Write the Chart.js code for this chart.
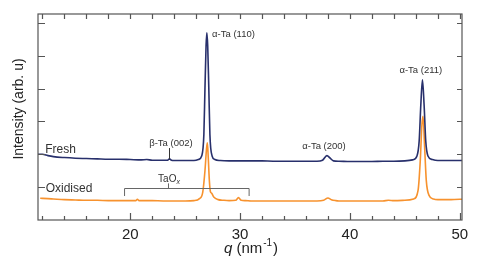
<!DOCTYPE html>
<html>
<head>
<meta charset="utf-8">
<script src="https://cdn.jsdelivr.net/npm/chart.js@4/dist/chart.umd.min.js"></script>
<style>
  html, body { margin: 0; padding: 0; background: #fff; }
</style>
</head>
<body>
<canvas id="xrd" width="498" height="274"></canvas>
<script>
// XRD scans, q in nm^-1, intensity in arb. units
const qFresh = [11.6, 12.0, 12.5, 13, 14, 15, 16, 17, 18, 19, 20, 21, 21.5, 22, 23, 23.4, 23.57, 23.75, 24, 25, 25.8,
  26.2, 26.5, 26.7, 26.8, 26.9, 26.97, 27.05, 27.15, 27.25, 27.45, 27.7, 28.2, 29, 30, 31, 32, 33, 34, 35, 36, 37,
  37.5, 37.9, 38.2, 38.5, 39, 40, 41, 42, 43, 44, 45, 45.7, 46.1, 46.3, 46.45, 46.6, 46.75, 46.9, 47.1, 47.5, 48, 49, 50, 50.2];
const iFresh = [2.00, 2.00, 1.96, 1.93, 1.90, 1.88, 1.87, 1.86, 1.85, 1.85, 1.84, 1.83, 1.84, 1.82, 1.82, 1.82, 1.86, 1.82, 1.81, 1.81, 1.81,
  1.84, 1.95, 2.6, 4.0, 5.3, 5.7, 5.3, 4.0, 2.6, 1.95, 1.84, 1.81, 1.80, 1.80, 1.80, 1.80, 1.79, 1.79, 1.79, 1.79, 1.79,
  1.82, 1.96, 1.88, 1.80, 1.79, 1.78, 1.78, 1.78, 1.79, 1.79, 1.80, 1.83, 1.95, 2.4, 3.5, 4.27, 3.5, 2.4, 1.95, 1.84, 1.81, 1.81, 1.81, 1.81];

const qOxid = [11.8, 12.5, 13, 14, 15, 16, 17, 18, 19, 20, 20.5, 20.65, 20.8, 21, 22, 23, 24, 25, 25.8,
  26.3, 26.6, 26.8, 26.95, 27.02, 27.1, 27.2, 27.3, 27.4, 27.6, 28, 28.5, 29, 29.6, 29.85, 30.1, 30.5, 31,
  32, 33, 34, 35, 36, 37, 37.6, 38.0, 38.3, 38.7, 39, 40, 41, 42, 43, 43.5, 44, 45, 45.8,
  46.2, 46.4, 46.55, 46.65, 46.8, 46.95, 47.2, 47.6, 48, 49, 50, 50.2];
const iOxid = [0.66, 0.65, 0.64, 0.62, 0.61, 0.60, 0.60, 0.59, 0.59, 0.59, 0.59, 0.63, 0.59, 0.59, 0.59, 0.58, 0.58, 0.58, 0.59,
  0.65, 0.85, 1.5, 2.2, 2.35, 1.9, 1.2, 0.86, 0.82, 0.70, 0.62, 0.60, 0.59, 0.60, 0.68, 0.60, 0.59, 0.58,
  0.58, 0.58, 0.58, 0.58, 0.58, 0.58, 0.60, 0.67, 0.62, 0.59, 0.58, 0.58, 0.58, 0.58, 0.58, 0.60, 0.59, 0.60, 0.64,
  0.9, 1.8, 2.9, 3.16, 2.2, 1.2, 0.75, 0.64, 0.62, 0.62, 0.63, 0.63];

const xTicks = [20, 30, 40, 50];

// peak labels: text, q, intensity
const peakNames = ['α-Ta (110)', 'α-Ta (200)', 'α-Ta (211)', 'β-Ta (002)'];
const peakQ = [27.45, 37.64, 46.45, 23.7];
const peakI = [5.65, 2.25, 4.56, 2.34];
const peakAlign = ['left', 'center', 'center', 'center'];

const navy = '#28306c';
const orange = '#f7922e';
const axisGrey = '#555';
const textCol = '#333';
const FONT = '"Liberation Sans", Arial, Helvetica, sans-serif';

const toPts = (qs, is) => qs.map((q, k) => ({ x: q, y: is[k] }));

const decorPlugin = {
  id: 'decor',
  afterDraw(chart) {
    const { ctx, chartArea: a, scales: { x, y } } = chart;
    ctx.save();

    // frame + inward ticks
    ctx.strokeStyle = axisGrey;
    ctx.lineWidth = 1.2;
    ctx.strokeRect(a.left, a.top, a.right - a.left, a.bottom - a.top);
    ctx.beginPath();
    for (let v = 12; v <= 50; v += 2) {
      const px = Math.round(x.getPixelForValue(v)) + 0.5;
      const len = v % 10 === 0 ? 7 : 4;
      ctx.moveTo(px, a.bottom); ctx.lineTo(px, a.bottom - len);
      ctx.moveTo(px, a.top); ctx.lineTo(px, a.top + 5);
    }
    for (let v = 1; v <= 6; v++) {
      const py = Math.round(y.getPixelForValue(v)) + 0.5;
      ctx.moveTo(a.left, py); ctx.lineTo(a.left + 7, py);
      ctx.moveTo(a.right, py); ctx.lineTo(a.right - 5, py);
    }
    ctx.stroke();

    // sample names
    ctx.fillStyle = textCol;
    ctx.font = '12px ' + FONT;
    ctx.textBaseline = 'middle';
    ctx.textAlign = 'left';
    ctx.fillText('Fresh', x.getPixelForValue(12.25), y.getPixelForValue(2.13));
    ctx.fillText('Oxidised', x.getPixelForValue(12.3), y.getPixelForValue(0.95));

    // peak labels
    ctx.font = '9.5px ' + FONT;
    peakNames.forEach((t, k) => {
      ctx.textAlign = peakAlign[k];
      ctx.fillText(t, x.getPixelForValue(peakQ[k]), y.getPixelForValue(peakI[k]));
    });

    // beta-Ta marker
    ctx.strokeStyle = textCol;
    ctx.lineWidth = 1;
    ctx.beginPath();
    const bx = Math.round(x.getPixelForValue(23.57)) + 0.5;
    ctx.moveTo(bx, y.getPixelForValue(2.19));
    ctx.lineTo(bx, y.getPixelForValue(1.85));
    ctx.stroke();

    // TaOx bracket
    ctx.strokeStyle = '#666';
    const l = x.getPixelForValue(19.48), r = x.getPixelForValue(30.82), c = x.getPixelForValue(23.48);
    const yh = Math.round(y.getPixelForValue(0.963)) + 0.5, yl = y.getPixelForValue(0.73), yt = y.getPixelForValue(1.115);
    ctx.beginPath();
    ctx.moveTo(l, yl); ctx.lineTo(l, yh); ctx.lineTo(r, yh); ctx.lineTo(r, yl);
    ctx.moveTo(c, yh); ctx.lineTo(c, yt);
    ctx.stroke();
    ctx.font = '10px ' + FONT;
    ctx.textAlign = 'left';
    const wTa = ctx.measureText('TaO').width;
    const tx = x.getPixelForValue(23.55) - (wTa + 4) / 2, ty = y.getPixelForValue(1.25);
    ctx.fillText('TaO', tx, ty);
    ctx.font = 'italic 7px ' + FONT;
    ctx.fillText('x', tx + wTa, ty + 3);

    // axis titles
    ctx.fillStyle = '#222';
    ctx.font = '14px ' + FONT;
    ctx.save();
    ctx.translate(19, 109);
    ctx.rotate(-Math.PI / 2);
    ctx.textAlign = 'center';
    ctx.fillText('Intensity (arb. u)', 0, 0);
    ctx.restore();

    const parts = [
      ['q', 'italic 15px ' + FONT, 0],
      [' (nm', '15px ' + FONT, 0],
      ['-1', '10px ' + FONT, -6],
      [')', '15px ' + FONT, 0]
    ];
    let total = 0;
    parts.forEach(p => { ctx.font = p[1]; total += ctx.measureText(p[0]).width + (p[0] === '-1' ? 2 : 0); });
    let cx = (a.left + a.right) / 2 - total / 2 + 1;
    const cy = 249;
    ctx.textAlign = 'left';
    parts.forEach(p => {
      ctx.font = p[1];
      if (p[0] === '-1') cx += 1;
      ctx.fillText(p[0], cx, cy + p[2]);
      cx += ctx.measureText(p[0]).width + (p[0] === '-1' ? 1 : 0);
    });
    ctx.restore();
  }
};

new Chart(document.getElementById('xrd'), {
  type: 'line',
  data: {
    datasets: [
      { label: 'Fresh', data: toPts(qFresh, iFresh), borderColor: navy, borderWidth: 1.6 },
      { label: 'Oxidised', data: toPts(qOxid, iOxid), borderColor: orange, borderWidth: 1.6 }
    ]
  },
  options: {
    responsive: false,
    animation: false,
    devicePixelRatio: 1,
    layout: { padding: { top: 14, right: 36, left: 0, bottom: 0 } },
    elements: {
      point: { radius: 0 },
      line: { cubicInterpolationMode: 'monotone', fill: false }
    },
    plugins: { legend: { display: false }, tooltip: { enabled: false } },
    scales: {
      x: {
        type: 'linear',
        min: 11.6,
        max: 50.2,
        grid: { display: false, drawTicks: false },
        border: { display: false },
        afterBuildTicks: s => { s.ticks = xTicks.map(v => ({ value: v })); },
        afterFit: s => { s.height = 54; },
        ticks: { color: '#222', padding: 6, maxRotation: 0, font: { family: FONT, size: 15 } }
      },
      y: {
        min: 0,
        max: 6.27,
        grid: { display: false, drawTicks: false },
        border: { display: false },
        ticks: { display: false },
        afterFit: s => { s.width = 38; }
      }
    }
  },
  plugins: [decorPlugin]
});
</script>
</body>
</html>
